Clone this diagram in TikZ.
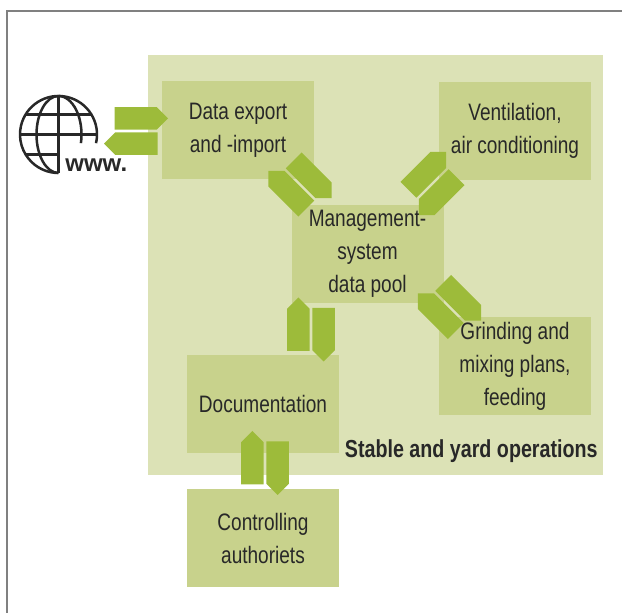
\documentclass[tikz,border=0pt]{standalone}
\usepackage{fontspec}
\setmainfont{Liberation Sans}[FakeStretch=0.8]
\newfontfamily\wwwfont{Liberation Sans}
\usepackage{tikz}
\definecolor{panelgreen}{RGB}{220,226,182}
\definecolor{boxgreen}{RGB}{200,210,140}
\definecolor{arrowgreen}{RGB}{157,187,58}
\definecolor{textgray}{RGB}{40,40,40}
\definecolor{framegray}{RGB}{128,128,128}

%% two block arrows, the first one pointing along the given angle
\newcommand{\arrowpair}[2]{%
  \fill[arrowgreen, shift={#1}, rotate=#2] (-21.5,1.35) -- (20.75,1.35) -- (32,12.6) -- (20.75,23.85) -- (-21.5,23.85) -- cycle;
  \fill[arrowgreen, shift={#1}, rotate=#2+180] (-21.5,1.35) -- (20.75,1.35) -- (32,12.6) -- (20.75,23.85) -- (-21.5,23.85) -- cycle;
}

\begin{document}
\begin{tikzpicture}[x=0.5pt, y=0.5pt,
    box/.style={fill=boxgreen, minimum width=76pt, minimum height=49pt, inner sep=0pt,
      align=center, text=textgray, font=\fontsize{11.9}{16.5}\selectfont}]
    \useasboundingbox (0,0) rectangle (622,613);

    %% Frame
    \draw[framegray, line width=0.8pt] (7,0) -- (7,602) -- (622,602);

    %% Stable and yard operations
    \node[fill=panelgreen, minimum width=227.5pt, minimum height=210pt, inner sep=0pt] (stable) at (375.5,348) {};
    \node[anchor=base east, inner sep=0pt, text=textgray, font=\fontsize{12.3}{14}\selectfont\bfseries] (stablelabel) at (598,155) {Stable and yard operations};

    %% Boxes
    \node[box] (export) at (238,483) {Data export\\and -import};
    \node[box] (vent) at (515,482) {Ventilation,\\air conditioning};
    \node[box] (mgmt) at (367.5,359) {Management-\\system\\data pool};
    \node[box] (grind) at (515,247) {Grinding and\\mixing plans,\\feeding};
    \node[box] (doc) at (263,208.5) {Documentation};
    \node[box] (ctrl) at (263,74.5) {Controlling\\authoriets};

    %% Globe
    \coordinate (globe) at (58.5,478.5);
    \begin{scope}[shift={(globe)}, textgray, line width=1.25pt]
      \draw (-13:38.5) arc[start angle=-13, end angle=270, radius=38.5];
      \draw (0,38.5) -- (0,-38.5);
      \draw (0,38.5) arc[start angle=90, end angle=270, x radius=22, y radius=38.5];
      \draw (0,38.5) arc[start angle=90, end angle=-13, x radius=23, y radius=38.5];
      \draw (-33,20) -- (33,20);
      \draw (-38.5,0) -- (38.5,0);
      \draw (-33,-20) -- (0,-20);
    \end{scope}
    \node[anchor=base west, inner sep=0pt, text=textgray, font=\wwwfont\fontsize{12}{14}\selectfont\bfseries] (www) at (65,441) {www.};

    %% Block arrows
    \coordinate (wwwex) at (136,482);
    \coordinate (exmg) at (300,428.5);
    \coordinate (mgvent) at (432.5,429.5);
    \coordinate (mggrind) at (449.5,306);
    \coordinate (mgdoc) at (311,283.5);
    \coordinate (docctrl) at (265,150);
    \arrowpair{(wwwex)}{0}
    \arrowpair{(exmg)}{-45}
    \arrowpair{(mgvent)}{45}
    \arrowpair{(mggrind)}{-45}
    \arrowpair{(mgdoc)}{-90}
    \arrowpair{(docctrl)}{-90}
\end{tikzpicture}
\end{document}
